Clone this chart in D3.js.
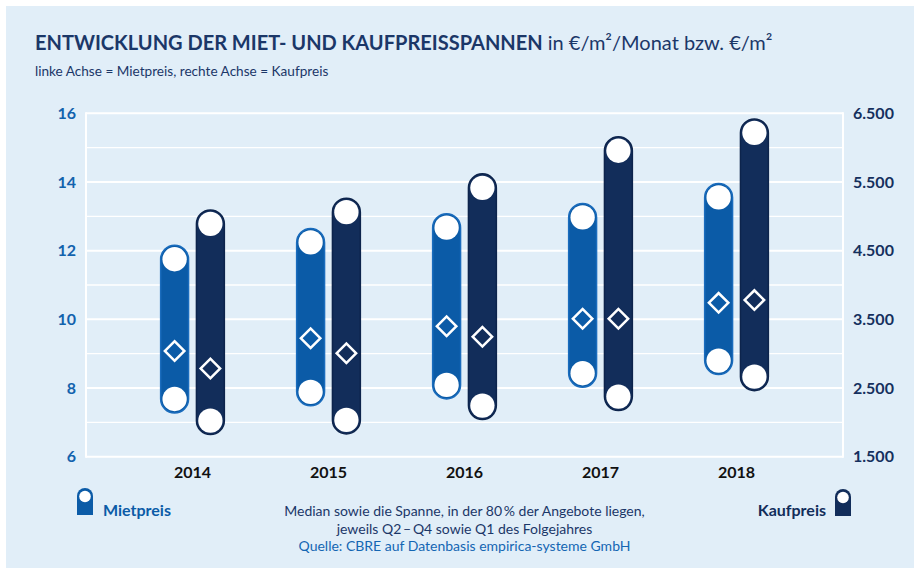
<!DOCTYPE html>
<html>
<head>
<meta charset="utf-8">
<script src="https://cdn.jsdelivr.net/npm/d3@7"></script>
<style>
  html, body { margin: 0; padding: 0; background: #fff; }
  svg { display: block; font-family: Lato, "Open Sans", sans-serif; }
</style>
</head>
<body>
<svg id="chart"></svg>
<script>
const years = ["2014", "2015", "2016", "2017", "2018"];
const mietLow = [7.68, 7.89, 8.09, 8.43, 8.80];
const mietMedian = [9.08, 9.45, 9.80, 10.02, 10.48];
const mietHigh = [11.75, 12.24, 12.67, 12.97, 13.55];
const kaufLow = [2025, 2035, 2245, 2375, 2665];
const kaufMedian = [2785, 3005, 3245, 3510, 3780];
const kaufHigh = [4890, 5060, 5415, 5955, 6215];
const leftTicks = [6, 8, 10, 12, 14, 16];
const rightTicks = [1500, 2500, 3500, 4500, 5500, 6500];
const gridValues = [6, 7, 8, 9, 10, 11, 12, 13, 14, 15, 16];

const width = 918;
const height = 576;
const margin = { top: 113.3, right: 75, bottom: 119.3, left: 86 };

const colors = {
  bg: "#e1eef8",
  miet: "#0b5ba7",
  mietEdge: "#1a6cbd",
  kauf: "#122d5a",
  kaufEdge: "#0d244c",
  title: "#1b3768",
  leftTick: "#1262ad",
  rightTick: "#15305e"
};

const svg = d3.select("#chart").attr("width", width).attr("height", height);

svg.append("rect")
  .attr("x", 6).attr("y", 6)
  .attr("width", width - 10).attr("height", height - 14)
  .attr("fill", colors.bg);

const x = d3.scaleBand()
  .domain(years)
  .range([margin.left, width - margin.right])
  .paddingInner(0.5)
  .paddingOuter(0.533);

const xSub = d3.scaleBand()
  .domain(["miet", "kauf"])
  .range([0, x.bandwidth()])
  .paddingInner(0.22)
  .paddingOuter(0.06);

const yLeft = d3.scaleLinear().domain([6, 16]).range([height - margin.bottom, margin.top]);
const yRight = d3.scaleLinear().domain([1500, 6500]).range([height - margin.bottom, margin.top]);

// grid
svg.append("g").selectAll("line")
  .data(gridValues)
  .join("line")
  .attr("x1", margin.left).attr("x2", width - margin.right)
  .attr("y1", d => yLeft(d)).attr("y2", d => yLeft(d))
  .attr("stroke", "#fff")
  .attr("stroke-width", d => d % 2 === 0 ? 2 : 1.3);

[margin.left, width - margin.right].forEach(xx => {
  svg.append("line")
    .attr("x1", xx).attr("x2", xx)
    .attr("y1", yLeft(16) - 1).attr("y2", yLeft(6) + 1)
    .attr("stroke", "#fff").attr("stroke-width", 2);
});

// axes
const leftAxis = svg.append("g")
  .attr("transform", `translate(${margin.left},0)`)
  .call(d3.axisLeft(yLeft).tickValues(leftTicks).tickSize(0).tickPadding(10));
leftAxis.select(".domain").remove();
leftAxis.selectAll("text")
  .attr("fill", colors.leftTick)
  .style("font-size", "16px").style("font-weight", "bold")
  .style("font-family", "Lato, sans-serif");

const rightAxis = svg.append("g")
  .attr("transform", `translate(${width - margin.right},0)`)
  .call(d3.axisRight(yRight).tickValues(rightTicks).tickSize(0).tickPadding(10)
    .tickFormat(d => d3.format(",")(d).replace(",", ".")));
rightAxis.select(".domain").remove();
rightAxis.selectAll("text")
  .attr("fill", colors.rightTick)
  .style("font-size", "16px").style("font-weight", "bold")
  .style("font-family", "Lato, sans-serif");

const xAxis = svg.append("g")
  .attr("transform", `translate(0,${yLeft(6)})`)
  .call(d3.axisBottom(x).tickSize(0).tickPadding(10));
xAxis.select(".domain").remove();
xAxis.selectAll("text")
  .attr("fill", "#111")
  .style("font-size", "16px").style("font-weight", "bold")
  .style("font-family", "Lato, sans-serif");

// ranges
const series = [
  { key: "miet", low: mietLow, mid: mietMedian, high: mietHigh, y: yLeft, fill: colors.miet, edge: colors.mietEdge },
  { key: "kauf", low: kaufLow, mid: kaufMedian, high: kaufHigh, y: yRight, fill: colors.kauf, edge: colors.kaufEdge }
];

const bw = xSub.bandwidth();
const r = bw / 2;

series.forEach(s => {
  const g = svg.append("g");
  const items = years.map((yr, i) => ({ yr, low: s.low[i], mid: s.mid[i], high: s.high[i] }));
  const cx = d => x(d.yr) + xSub(s.key) + bw / 2;

  g.selectAll("rect")
    .data(items)
    .join("rect")
    .attr("x", d => x(d.yr) + xSub(s.key))
    .attr("y", d => s.y(d.high) - r)
    .attr("width", bw)
    .attr("height", d => s.y(d.low) - s.y(d.high) + 2 * r)
    .attr("rx", r)
    .attr("fill", s.fill)
    .attr("stroke", s.edge)
    .attr("stroke-width", 1.5);

  g.selectAll("circle.hi")
    .data(items)
    .join("circle")
    .attr("class", "hi")
    .attr("cx", cx)
    .attr("cy", d => s.y(d.high))
    .attr("r", r - 1.8)
    .attr("fill", "#fff");

  g.selectAll("circle.lo")
    .data(items)
    .join("circle")
    .attr("class", "lo")
    .attr("cx", cx)
    .attr("cy", d => s.y(d.low))
    .attr("r", r - 1.8)
    .attr("fill", "#fff");

  g.selectAll("path.med")
    .data(items)
    .join("path")
    .attr("class", "med")
    .attr("d", d3.symbol(d3.symbolSquare, 190))
    .attr("transform", d => `translate(${cx(d)},${s.y(d.mid)}) rotate(45)`)
    .attr("fill", "none")
    .attr("stroke", "#fff")
    .attr("stroke-width", 2.5);
});

// title
const title = svg.append("text")
  .attr("x", 35).attr("y", 50)
  .attr("fill", colors.title)
  .style("font-size", "20px");
title.append("tspan").style("font-weight", "bold").text("ENTWICKLUNG DER MIET- UND KAUFPREISSPANNEN");
title.append("tspan").text(" in €/m²/Monat bzw. €/m²");

svg.append("text")
  .attr("x", 35).attr("y", 76)
  .attr("fill", colors.title)
  .style("font-size", "13.6px")
  .text("linke Achse = Mietpreis, rechte Achse = Kaufpreis");

// legend
function legendIcon(x0, y0, fill) {
  const w = 16, h = 27, rr = 8;
  svg.append("path")
    .attr("d", `M${x0},${y0 + h} V${y0 + rr} A${rr},${rr} 0 0 1 ${x0 + w},${y0 + rr} V${y0 + h} Z`)
    .attr("fill", fill);
  svg.append("circle")
    .attr("cx", x0 + w / 2).attr("cy", y0 + 8.5)
    .attr("r", 5.8).attr("fill", "#fff");
}

legendIcon(77, 488, colors.miet);
svg.append("text")
  .attr("x", 103).attr("y", 516)
  .attr("fill", colors.miet)
  .style("font-size", "16px").style("font-weight", "bold")
  .text("Mietpreis");

legendIcon(835, 489, colors.kauf);
svg.append("text")
  .attr("x", 826).attr("y", 516)
  .attr("text-anchor", "end")
  .attr("fill", colors.kauf)
  .style("font-size", "16px").style("font-weight", "bold")
  .text("Kaufpreis");

// footnote
const notes = [
  { t: "Median sowie die Spanne, in der 80\u2009% der Angebote liegen,", y: 515.5, c: colors.title },
  { t: "jeweils Q2\u2009–\u2009Q4 sowie Q1 des Folgejahres", y: 533.5, c: colors.title },
  { t: "Quelle: CBRE auf Datenbasis empirica-systeme GmbH", y: 551, c: "#1466b3" }
];
svg.append("g").selectAll("text")
  .data(notes)
  .join("text")
  .attr("x", 464.5).attr("y", d => d.y)
  .attr("text-anchor", "middle")
  .attr("fill", d => d.c)
  .style("font-size", "14px")
  .text(d => d.t);
</script>
</body>
</html>
